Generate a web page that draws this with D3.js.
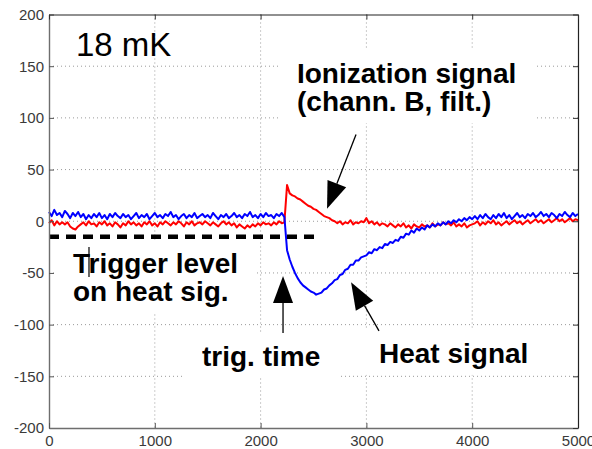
<!DOCTYPE html>
<html>
<head>
<meta charset="utf-8">
<script src="https://cdn.jsdelivr.net/npm/d3@7"></script>
<style>
  body { margin: 0; background: #fff; }
  svg { display: block; }
  text { font-family: Arial, "Liberation Sans", sans-serif; }
</style>
</head>
<body>
<div id="chart"></div>
<script>
// sample grid of the traces, in ms
var times = d3.range(0, 5001, 25);

// heat signal (blue), every 25 ms
var heatSignal = [
  9, 5, 11, 6, 8, 4, 10, 7, 3, 8,
  5, 9, 4, 7, 2, 6, 3, 7, 4, 8,
  3, 6, 2, 7, 4, 8, 5, 3, 7, 4,
  6, 2, 5, 8, 3, 6, 4, 7, 2, 5,
  8, 4, 6, 3, 7, 5, 9, 4, 6, 2,
  5, 7, 3, 6, 4, 8, 3, 5, 7, 4,
  6, 3, 8, 5, 2, 6, 4, 7, 3, 5,
  8, 4, 6, 3, 7, 5, 9, 4, 6, 3,
  7, 4, 8, 5, 6, 3, 7, 5, 8, 4,
  -28, -37, -44, -50, -55, -59, -62, -64, -66, -68,
  -69, -71, -70, -69, -66, -65, -62, -60, -57, -56,
  -52, -51, -47, -46, -42, -42, -38, -38, -35, -34,
  -33, -30, -31, -27, -28, -25, -26, -22, -23, -20,
  -21, -18, -19, -15, -16, -12, -13, -9, -11, -7,
  -9, -6, -8, -4, -6, -3, -5, -2, -4, -1,
  -3, 0, -2, 1, -1, 2, 0, 3, 1, 4,
  2, 5, 2, 6, 3, 7, 4, 2, 6, 3,
  7, 4, 8, 3, 6, 2, 5, 8, 4, 6,
  3, 7, 5, 8, 4, 6, 9, 5, 7, 4,
  8, 6, 3, 7, 5, 9, 6, 4, 8, 5,
  7
];

// ionization signal (red, channel B filtered), same grid
var ionSignal = [
  -2, 1, -4, 0, -3, -1, -3, -1, -5, -7,
  -8, -5, -3, -1, -4, 0, -3, -2, -5, -1,
  -3, 0, -4, -2, -5, -1, -3, -6, -2, -4,
  0, -3, -1, -4, -2, -5, -1, -3, 0, -4,
  -2, -5, -1, -3, 0, -2, -4, -1, -3, 0,
  -2, -5, -1, -3, 0, -4, -2, -1, -3, 0,
  -2, -4, -1, -3, -5, -2, 0, -3, -1, -4,
  -2, -6, -3, -5, -7, -4, -6, -3, -5, -2,
  -4, -1, -3, -2, -4, -1, -3, 0, -2, -1,
  35, 27, 25, 24, 22, 21, 19, 17, 15, 14,
  12, 11, 9, 7, 5, 4, 3, 1, 0, -2,
  0, -3, -1, -2, 1, -3, -1, -2, 0, -1,
  3, -2, 0, -3, -1, -4, -2, -3, -5, -2,
  -4, -6, -3, -5, -2, -6, -4, -7, -3, -5,
  -6, -3, -5, -4, -6, -2, -5, -3, -4, -1,
  -3, -2, -4, -1, -5, -3, -5, -2, -6, -4,
  -3, -2, 0, -4, -1, -3, 0, -2, 1, -3,
  -1, -4, -2, 0, -3, -1, 1, -2, 0, -3,
  -1, 1, -2, 0, 2, -1, 1, -2, 0, 2,
  -1, 1, 3, 0, 2, -1, 1, 3, 0, 2,
  1
];

// trigger level on the heat signal (dashed line)
var triggerLevel = -15;
var triggerSpan = [0, 2520];

var xTicks = [0, 1000, 2000, 3000, 4000, 5000];
var yTicks = [-200, -150, -100, -50, 0, 50, 100, 150, 200];

// annotations, in data units: [x, y of first baseline]
var labels = [
  { lines: ["Ionization signal", "(chann. B, filt.)"], x: 2344, y: 134 },
  { lines: ["Trigger level", "on heat sig."], x: 227, y: -50 },
  { lines: ["trig. time"], x: 1446, y: -140 },
  { lines: ["Heat signal"], x: 3119, y: -137 }
];
// arrows: from [x, y] to [x, y] in data units
var arrows = [
  { from: [2902, 84], to: [2628, 12] },
  { from: [2212, -108], to: [2212, -53] },
  { from: [3119, -106], to: [2855, -59] }
];

var width = 592, height = 449;
var x = d3.scaleLinear().domain([0, 5000]).range([49, 578]);
var y = d3.scaleLinear().domain([-200, 200]).range([428, 14.5]);

var svg = d3.select("#chart").append("svg")
  .attr("width", width)
  .attr("height", height);

// dotted grid
svg.append("g").selectAll("line.gx")
  .data(xTicks.slice(1, -1)).enter().append("line")
  .attr("x1", d => x(d)).attr("x2", d => x(d))
  .attr("y1", y(200)).attr("y2", y(-200))
  .attr("stroke", "#9a9a9a").attr("stroke-dasharray", "1,3");
svg.append("g").selectAll("line.gy")
  .data(yTicks.slice(1, -1)).enter().append("line")
  .attr("x1", x(0)).attr("x2", x(5000))
  .attr("y1", d => y(d)).attr("y2", d => y(d))
  .attr("stroke", "#9a9a9a").attr("stroke-dasharray", "1,3");

// traces
var line = d3.line()
  .x((d, i) => x(times[i]))
  .y(d => y(d));

svg.append("path").datum(ionSignal)
  .attr("fill", "none").attr("stroke", "#ff0000")
  .attr("stroke-width", 2).attr("stroke-linejoin", "round")
  .attr("d", line);
svg.append("path").datum(heatSignal)
  .attr("fill", "none").attr("stroke", "#0000ff")
  .attr("stroke-width", 2).attr("stroke-linejoin", "round")
  .attr("d", line);

// trigger level
svg.append("line")
  .attr("x1", x(triggerSpan[0])).attr("x2", x(triggerSpan[1]))
  .attr("y1", y(triggerLevel)).attr("y2", y(triggerLevel))
  .attr("stroke", "#000").attr("stroke-width", 4.5)
  .attr("stroke-dasharray", "10,7");

// axes, matlab style: ticks pointing in, box around
var fmt = d => String(d);
var leftAxis = svg.append("g").attr("transform", "translate(" + x(0) + ",0)")
  .call(d3.axisLeft(y).tickValues(yTicks).tickSize(-5).tickSizeOuter(0).tickPadding(5).tickFormat(fmt));
var bottomAxis = svg.append("g").attr("transform", "translate(0," + y(-200) + ")")
  .call(d3.axisBottom(x).tickValues(xTicks).tickSize(-5).tickSizeOuter(0).tickPadding(7).tickFormat(fmt));
var rightAxis = svg.append("g").attr("transform", "translate(" + x(5000) + ",0)")
  .call(d3.axisRight(y).tickValues(yTicks).tickSize(-5).tickSizeOuter(0).tickFormat(""));
var topAxis = svg.append("g").attr("transform", "translate(0," + y(200) + ")")
  .call(d3.axisTop(x).tickValues(xTicks).tickSize(-5).tickSizeOuter(0).tickFormat(""));

[leftAxis, bottomAxis].forEach(function(g) {
  g.select(".domain").attr("stroke", "#6e6e6e").attr("stroke-width", 1.4);
  g.selectAll(".tick line").attr("stroke", "#555");
  g.selectAll(".tick text").attr("fill", "#3a3a3a")
    .style("font-size", "15px").style("font-family", "Arial, 'Liberation Sans', sans-serif");
});
[rightAxis, topAxis].forEach(function(g) {
  g.select(".domain").attr("stroke", "#222").attr("stroke-width", 1.2);
  g.selectAll(".tick line").attr("stroke", "#333");
});

// temperature label
svg.append("text")
  .attr("x", x(255)).attr("y", y(160))
  .style("font-size", "33px")
  .attr("fill", "#000")
  .text("18 mK");

// annotation texts with white background, like matlab text boxes
labels.forEach(function(lab) {
  var g = svg.append("g");
  var bg = g.append("rect").attr("fill", "#fff");
  var t = g.append("text")
    .attr("x", x(lab.x)).attr("y", y(lab.y))
    .style("font-size", "28px").style("font-weight", "bold")
    .attr("fill", "#000");
  t.selectAll("tspan").data(lab.lines).enter().append("tspan")
    .attr("x", x(lab.x))
    .attr("dy", (d, i) => i === 0 ? 0 : 28.5)
    .text(d => d);
  var bb = t.node().getBBox();
  bg.attr("x", bb.x - 18).attr("y", bb.y - 8)
    .attr("width", bb.width + 36).attr("height", bb.height + 14);
});

// thin pointer from trigger label to dashed line
svg.append("line")
  .attr("x1", x(378)).attr("x2", x(378))
  .attr("y1", y(-25)).attr("y2", y(-54))
  .attr("stroke", "#000").attr("stroke-width", 1.2);

// arrows with filled heads
arrows.forEach(function(a) {
  var x1 = x(a.from[0]), y1 = y(a.from[1]);
  var x2 = x(a.to[0]), y2 = y(a.to[1]);
  var dx = x2 - x1, dy = y2 - y1, len = Math.sqrt(dx * dx + dy * dy);
  var ux = dx / len, uy = dy / len;
  var headLen = 27, halfW = 10;
  var bx = x2 - ux * headLen, by = y2 - uy * headLen;
  svg.append("line")
    .attr("x1", x1).attr("y1", y1).attr("x2", bx).attr("y2", by)
    .attr("stroke", "#000").attr("stroke-width", 1.3);
  svg.append("polygon")
    .attr("points", [
      [x2, y2],
      [bx - uy * halfW, by + ux * halfW],
      [bx + uy * halfW, by - ux * halfW]
    ].map(p => p.join(",")).join(" "))
    .attr("fill", "#000");
});
</script>
</body>
</html>
